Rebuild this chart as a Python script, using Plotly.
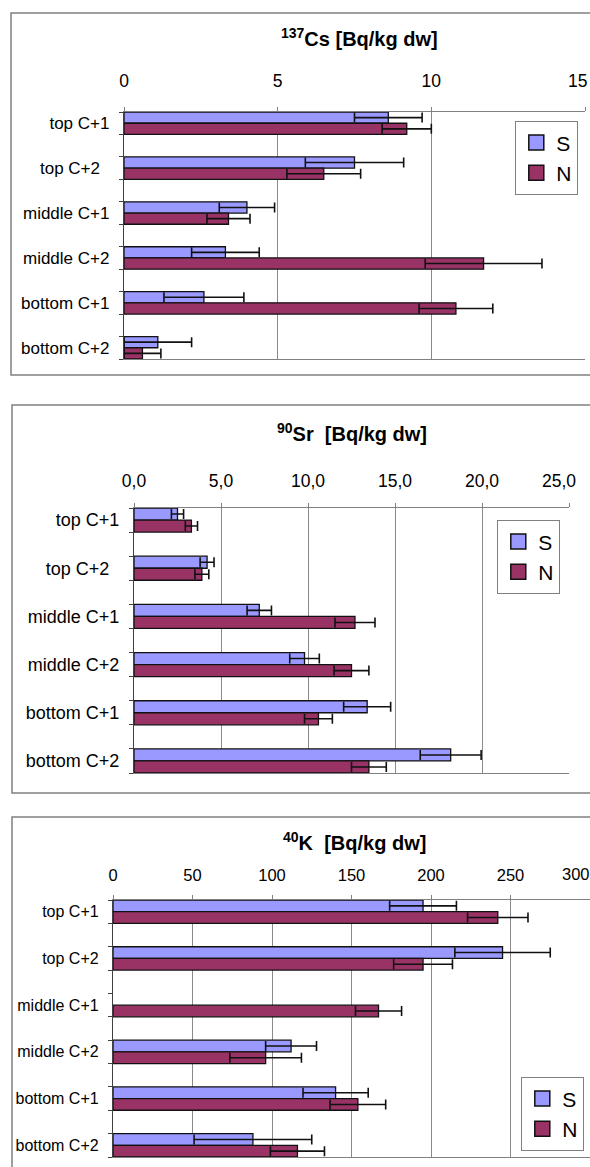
import plotly.graph_objects as go

W, H = 590, 1167

categories = ["top C+1", "top C+2", "middle C+1", "middle C+2", "bottom C+1", "bottom C+2"]
cs_labels = ["top C+1", "top C+2\u00a0\u00a0", "middle C+1", "middle C+2", "bottom C+1", "bottom C+2"]
sr_labels = ["top C+1", "top C+2\u00a0\u00a0", "middle C+1", "middle C+2", "bottom C+1", "bottom C+2"]
k_labels = categories

# 137Cs [Bq/kg dw]
cs_s = [8.6, 7.5, 4.0, 3.3, 2.6, 1.1]
cs_s_err = [1.1, 1.6, 0.9, 1.1, 1.3, 1.1]
cs_n = [9.2, 6.5, 3.4, 11.7, 10.8, 0.6]
cs_n_err = [0.8, 1.2, 0.7, 1.9, 1.2, 0.6]

# 90Sr [Bq/kg dw]
sr_s = [2.5, 4.2, 7.2, 9.8, 13.4, 18.2]
sr_s_err = [0.35, 0.4, 0.7, 0.85, 1.35, 1.75]
sr_n = [3.3, 3.9, 12.7, 12.5, 10.6, 13.5]
sr_n_err = [0.35, 0.4, 1.15, 1.0, 0.8, 1.0]

# 40K [Bq/kg dw]
k_s = [195, 245, None, 112, 140, 88]
k_s_err = [21, 30, None, 16, 20.5, 37]
k_n = [242, 195, 167, 96, 154, 116]
k_n_err = [19, 18.5, 14.5, 22.5, 17.5, 17]

# value-axis ticks
x_ticks_cs = [0, 5, 10, 15]
x_ticktext_cs = ["0", "5", "10", "15"]
x_ticks_sr = [0, 5, 10, 15, 20, 25]
x_ticktext_sr = ["0,0", "5,0", "10,0", "15,0", "20,0", "25,0"]
x_ticks_k = [0, 50, 100, 150, 200, 250, 300]
x_ticktext_k = ["0", "50", "100", "150", "200", "250", "300"]

S_COLOR = "#9999FF"
N_COLOR = "#993366"
EDGE = "#111111"
FONT = "Liberation Sans, Arial, sans-serif"

# one category slot per row, with an empty slot between rows
positions = [2 * i for i in range(len(categories))]

fig = go.Figure()


def px_x(v):
    return v / W


def px_y(v):
    return 1 - v / H


panels = [
    dict(s=cs_s, se=cs_s_err, n=cs_n, ne=cs_n_err, labels=cs_labels,
         ticks=x_ticks_cs, ticktext=x_ticktext_cs, last_shift=-8, label_y=81,
         title="<b><sup>137</sup>Cs [Bq/kg dw]</b>", title_y=38, title_dx=5,
         box=(11, 13, 640, 375), plot=(124, 112, 585, 359), xr=(0, 15),
         legend=(578, 121), lab_font=17, tick_font=17.5, title_font=20, standoff=13),
    dict(s=sr_s, se=sr_s_err, n=sr_n, ne=sr_n_err, labels=sr_labels,
         ticks=x_ticks_sr, ticktext=x_ticktext_sr, last_shift=-10, label_y=481,
         title="<b><sup>90</sup>Sr\u00a0 [Bq/kg dw]</b>", title_y=432, title_dx=0,
         box=(12, 405, 640, 793), plot=(134, 508, 569, 773), xr=(0, 25),
         legend=(560, 520), lab_font=18, tick_font=17.5, title_font=20, standoff=9),
    dict(s=k_s, se=k_s_err, n=k_n, ne=k_n_err, labels=k_labels,
         ticks=x_ticks_k, ticktext=x_ticktext_k, last_shift=-14, label_y=874,
         title="<b><sup>40</sup>K\u00a0 [Bq/kg dw]</b>", title_y=841, title_dx=3,
         box=(12, 817, 640, 1200), plot=(113, 900, 590, 1157), xr=(0, 300),
         legend=(584, 1077), lab_font=16, tick_font=16.5, title_font=20, standoff=7),
]

layout = dict(
    width=W, height=H, margin=dict(l=0, r=0, t=0, b=0, autoexpand=False),
    paper_bgcolor="white", plot_bgcolor="white",
    barmode="group", bargap=0.5, bargroupgap=0,
    separators=",.", font=dict(family=FONT, color="black"),
    shapes=[], annotations=[],
)

for k, p in enumerate(panels, start=1):
    sfx = "" if k == 1 else str(k)
    xa, ya = "x" + sfx, "y" + sfx
    leg = "legend" + sfx
    for name, vals, errs, col in (("S", p["s"], p["se"], S_COLOR), ("N", p["n"], p["ne"], N_COLOR)):
        fig.add_trace(go.Bar(
            name=name, y=positions, x=vals, orientation="h",
            xaxis=xa, yaxis=ya, showlegend=False,
            marker=dict(color=col, line=dict(color=EDGE, width=1.3)),
            error_x=dict(type="data", array=errs, symmetric=True, color=EDGE,
                         thickness=1.6, width=5),
        ))
    # legend swatches
    for name, col in (("S", S_COLOR), ("N", N_COLOR)):
        fig.add_trace(go.Scatter(
            name=name, x=[None], y=[None], mode="markers",
            xaxis=xa, yaxis=ya, legend=leg, legendgroup=name + sfx, showlegend=True,
            marker=dict(symbol="square", size=15, color=col, line=dict(color=EDGE, width=1.5)),
        ))

    ticktext = list(p["ticktext"])
    if p["last_shift"] is not None:
        # the last value label sits just inside the chart edge
        layout["annotations"].append(dict(
            text=ticktext[-1], xref=xa, yref="paper", x=p["ticks"][-1], y=px_y(p["label_y"]),
            xanchor="center", yanchor="middle", xshift=p["last_shift"], showarrow=False,
            font=dict(size=p["tick_font"], family=FONT, color="black"),
        ))
        ticktext[-1] = ""

    x0, y0, x1, y1 = p["plot"]
    layout["xaxis" + sfx] = dict(
        domain=[px_x(x0), min(1.0, px_x(x1))], range=list(p["xr"]), anchor=ya,
        side="top", tickmode="array", tickvals=p["ticks"], ticktext=ticktext,
        showline=True, mirror=True, linecolor="#808080", linewidth=1.3,
        ticks="outside", ticklen=4, tickcolor="#808080", tickwidth=1.3,
        showgrid=True, gridcolor="#8a8a8a", gridwidth=1, zeroline=False,
        tickfont=dict(size=p["tick_font"], family=FONT, color="black"),
        ticklabelstandoff=p["standoff"], ticklabeloverflow="allow",
        automargin=False, fixedrange=True,
    )
    layout["yaxis" + sfx] = dict(
        domain=[px_y(y1), px_y(y0)], range=[10.5, -0.5], anchor=xa,
        tickmode="array", tickvals=positions, ticktext=p["labels"], ticks="",
        showline=True, linecolor="#404040", linewidth=1.3, showgrid=False, zeroline=False,
        minor=dict(ticks="outside", tick0=-0.5, dtick=1, ticklen=4,
                   tickcolor="#404040", tickwidth=1.2, showgrid=False),
        tickfont=dict(size=p["lab_font"], family=FONT, color="black"),
        ticklabelstandoff=10, ticklabeloverflow="allow", automargin=False, fixedrange=True,
    )
    lx, ly = p["legend"]
    layout[leg] = dict(
        x=px_x(lx), y=px_y(ly), xanchor="right", yanchor="top",
        bgcolor="white", bordercolor="#808080", borderwidth=1.3,
        font=dict(size=21, family=FONT, color="black"),
        traceorder="grouped", tracegroupgap=0, itemwidth=30, itemsizing="trace",
    )
    bx0, by0, bx1, by1 = p["box"]
    layout["shapes"].append(dict(
        type="rect", xref="paper", yref="paper",
        x0=px_x(bx0), x1=px_x(bx1), y0=px_y(by1), y1=px_y(by0),
        line=dict(color="#808080", width=1.5), fillcolor="rgba(0,0,0,0)", layer="below",
    ))
    layout["annotations"].append(dict(
        text=p["title"], xref="paper", yref="paper",
        x=(px_x(x0) + min(1.0, px_x(x1))) / 2, y=px_y(p["title_y"]), xshift=p["title_dx"],
        xanchor="center", yanchor="middle", showarrow=False,
        font=dict(size=p["title_font"], family=FONT, color="black"),
    ))

fig.update_layout(**layout)
fig.write_html("out.html")
